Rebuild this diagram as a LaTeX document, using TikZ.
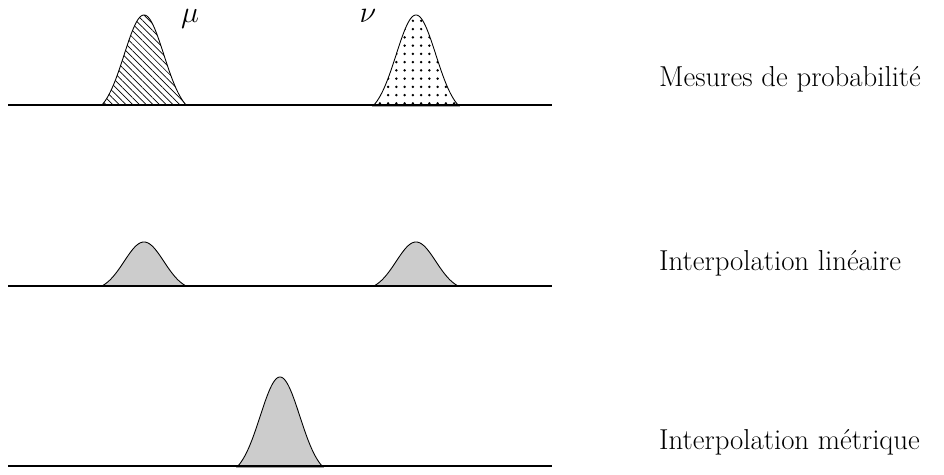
\documentclass[tikz,border=0pt]{standalone}
\usepackage{amsmath, amssymb}
\usepackage{tikz}
\usetikzlibrary{patterns, patterns.meta, positioning}
\usepackage{xcolor}
\definecolor{bumpgray}{HTML}{CCCCCC}

\begin{document}
\begin{tikzpicture}[
  x=0.02cm, y=-0.02cm,
  axis/.style={line width=1.1pt},
  bump/.style={draw, line width=0.5pt},
  lab/.style={font=\fontsize{16.4}{20}\selectfont, anchor=base west},
  sym/.style={font=\fontsize{16.4}{20}\selectfont, anchor=base, inner sep=0pt}
]
  \useasboundingbox (0, 0) rectangle (944, 475);

  % Baselines
  \coordinate (a1) at (8, 105);
  \coordinate (b1) at (552, 105);
  \coordinate (a2) at (8, 286);
  \coordinate (b2) at (552, 286);
  \coordinate (a3) at (8, 466);
  \coordinate (b3) at (552, 466);

  % Mesures
  \draw[bump, pattern={Lines[angle=-45, distance=2.7pt, line width=0.4pt]}]
    plot[domain=102:186, samples=70]
    (\x, {105 - 90*(exp(-(\x-144)*(\x-144)/784)-0.105)/0.895}) -- cycle;
  \draw[bump, pattern={Dots[distance=4.7pt, radius=0.75pt]}]
    plot[domain=373:459, samples=70]
    (\x, {105 - 90*(exp(-(\x-416)*(\x-416)/784)-0.105)/0.895}) -- cycle;
  \node[sym] (mu) at (190, 23) {$\mu$};
  \node[sym] (nu) at (368, 23) {$\nu$};

  % Interpolation lineaire
  \draw[bump, fill=bumpgray]
    plot[domain=102:186, samples=70]
    (\x, {286 - 44*(exp(-(\x-144)*(\x-144)/784)-0.105)/0.895}) -- cycle;
  \draw[bump, fill=bumpgray]
    plot[domain=374:458, samples=70]
    (\x, {286 - 44*(exp(-(\x-416)*(\x-416)/784)-0.105)/0.895}) -- cycle;

  % Interpolation metrique
  \draw[bump, fill=bumpgray]
    plot[domain=237:323, samples=70]
    (\x, {466 - 89*(exp(-(\x-280)*(\x-280)/784)-0.105)/0.895}) -- cycle;

  \draw[axis] (a1) -- (b1);
  \draw[axis] (a2) -- (b2);
  \draw[axis] (a3) -- (b3);

  % Labels
  \node[lab] (mes) at (653, 87) {Mesures de probabilit\'e};
  \node[lab] (lin) at (653, 271) {Interpolation lin\'eaire};
  \node[lab] (met) at (653, 450) {Interpolation m\'etrique};
\end{tikzpicture}
\end{document}
